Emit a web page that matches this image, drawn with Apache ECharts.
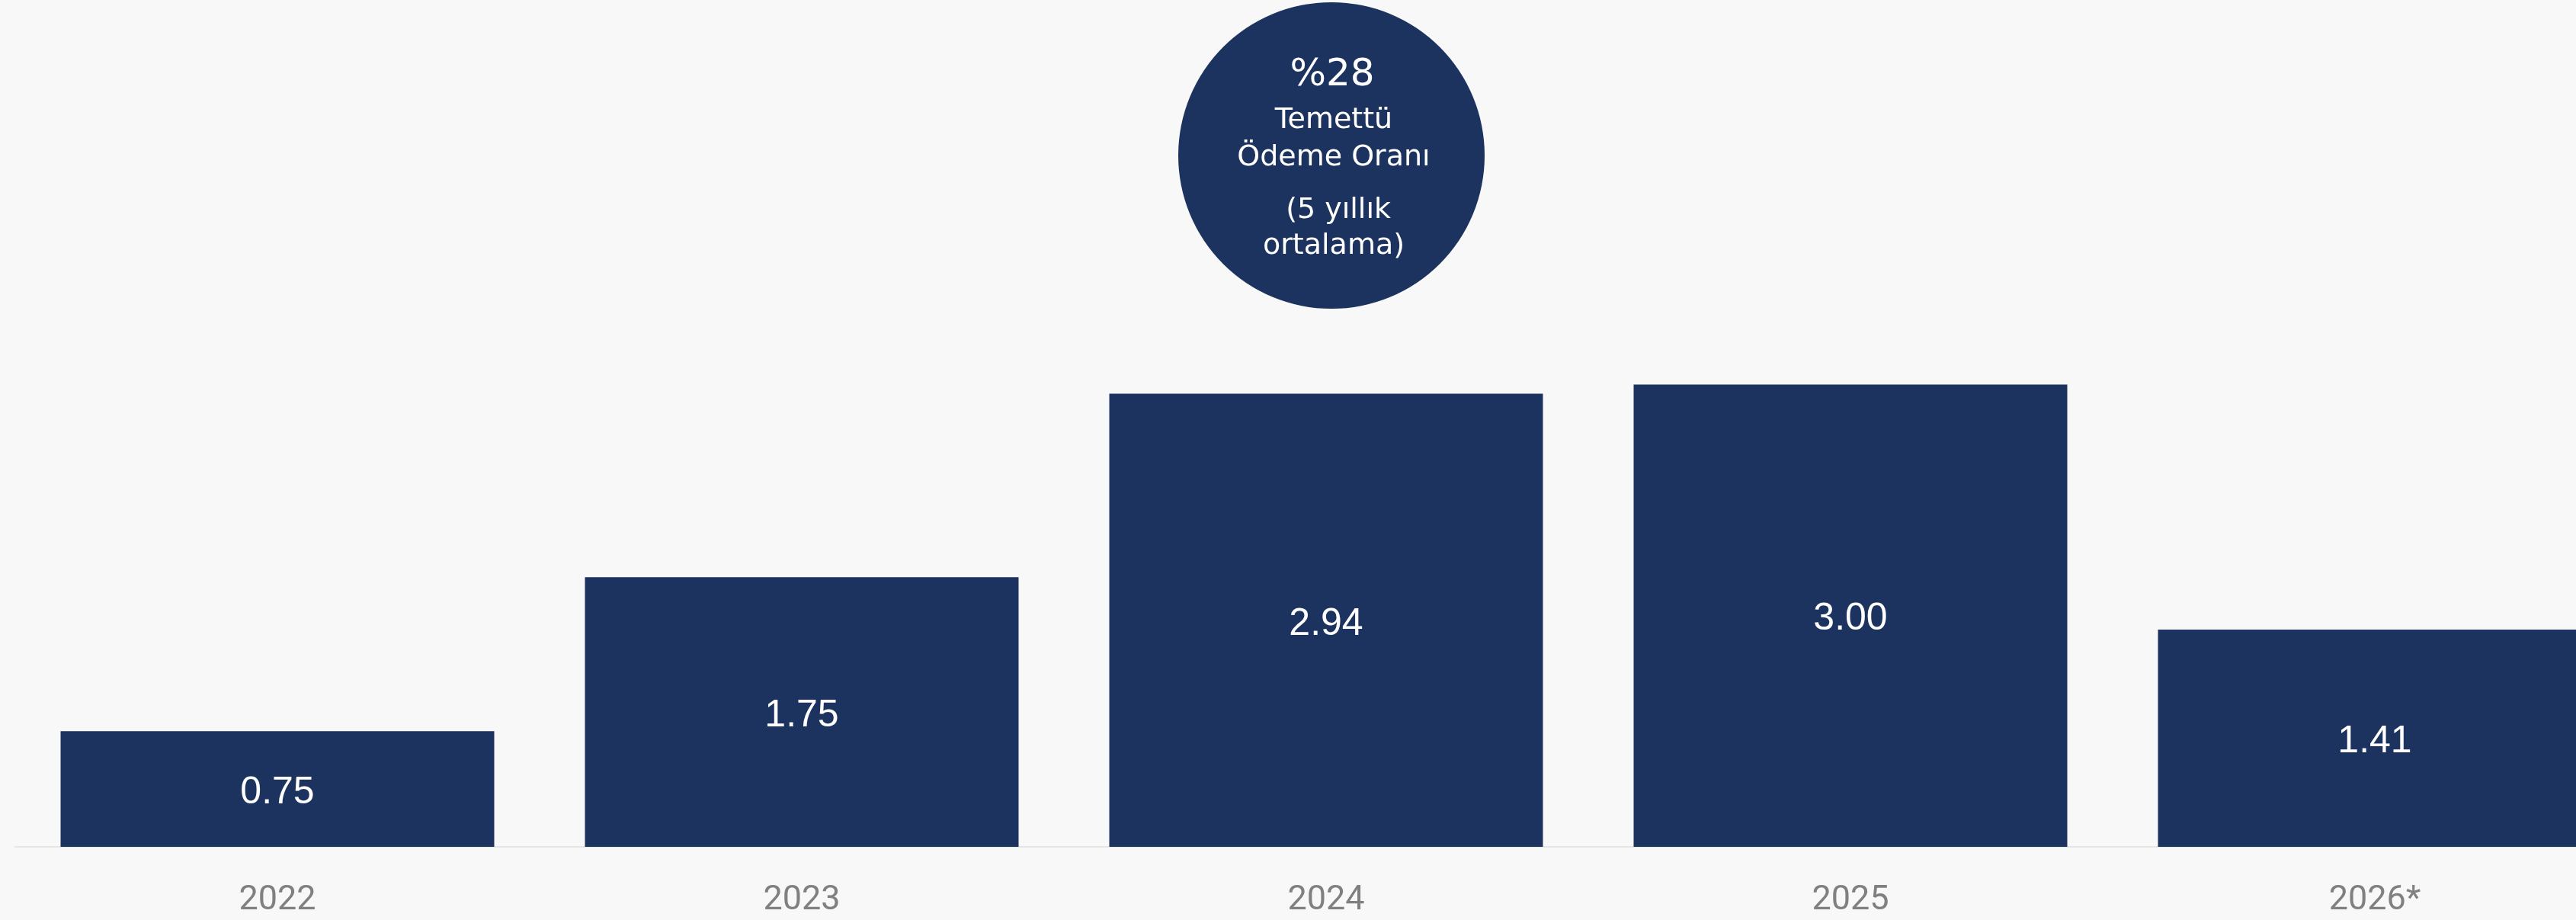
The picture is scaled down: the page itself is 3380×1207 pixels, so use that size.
<!DOCTYPE html>
<html>
<head>
<meta charset="utf-8">
<script src="https://cdn.jsdelivr.net/npm/echarts@6/dist/echarts.min.js"></script>
<style>
  html, body { margin: 0; padding: 0; background: #f8f8f8; overflow: hidden; width: 3380px; height: 1207px; }
  #chart { width: 3480px; height: 1207px; }
</style>
</head>
<body>
<div id="chart"></div>
<script>
const categories = ['2022', '2023', '2024', '2025', '2026*'];
const dividends = [0.75, 1.75, 2.94, 3.00, 1.41];
const valueLabels = ['0.75', '1.75', '2.94', '3.00', '1.41'];
const badgeHeadline = '%28';
const badgeLines = ['Temettü', 'Ödeme Oranı', ' (5 yıllık', 'ortalama)'];

const navy = '#1c3360';
const chart = echarts.init(document.getElementById('chart'), null, { renderer: 'canvas' });

const badgeFont = '"DejaVu Sans", "Noto Sans", sans-serif';
const badgeY = [158, 207, 276, 323];
const badgeSizes = [38, 38, 38, 38];

const graphics = [
  { type: 'circle', shape: { cx: 1747, cy: 204, r: 201 }, style: { fill: navy }, z: 10 },
  { type: 'text', x: 1748, y: 99, z: 11,
    style: { text: badgeHeadline, fill: '#ffffff', font: '400 50px ' + badgeFont, textAlign: 'center', textVerticalAlign: 'middle' } }
];
badgeLines.forEach((t, i) => {
  graphics.push({ type: 'text', x: 1750, y: badgeY[i], z: 11,
    style: { text: t, fill: '#ffffff', font: '400 ' + badgeSizes[i] + 'px ' + badgeFont, textAlign: 'center', textVerticalAlign: 'middle' } });
});

chart.setOption({
  backgroundColor: '#f8f8f8',
  animation: false,
  grid: { left: 20, right: 20, top: 100, bottom: 96, containLabel: false },
  xAxis: {
    type: 'category',
    data: categories,
    axisLine: { show: true, lineStyle: { color: '#e6e6e6', width: 2 } },
    axisTick: { show: false },
    axisLabel: { color: '#808080', fontSize: 45, fontFamily: 'Roboto, sans-serif', margin: 48 }
  },
  yAxis: {
    type: 'value',
    min: 0, max: 5,
    show: false,
    splitLine: { show: false }
  },
  series: [{
    type: 'bar',
    data: dividends,
    barCategoryGap: '17.3%',
    itemStyle: { color: navy },
    label: {
      show: true,
      position: 'inside',
      offset: [0, 5],
      color: '#ffffff',
      fontSize: 50,
      fontFamily: '"Liberation Sans", Arial, sans-serif',
      formatter: p => valueLabels[p.dataIndex]
    }
  }],
  graphic: graphics
});
</script>
</body>
</html>
